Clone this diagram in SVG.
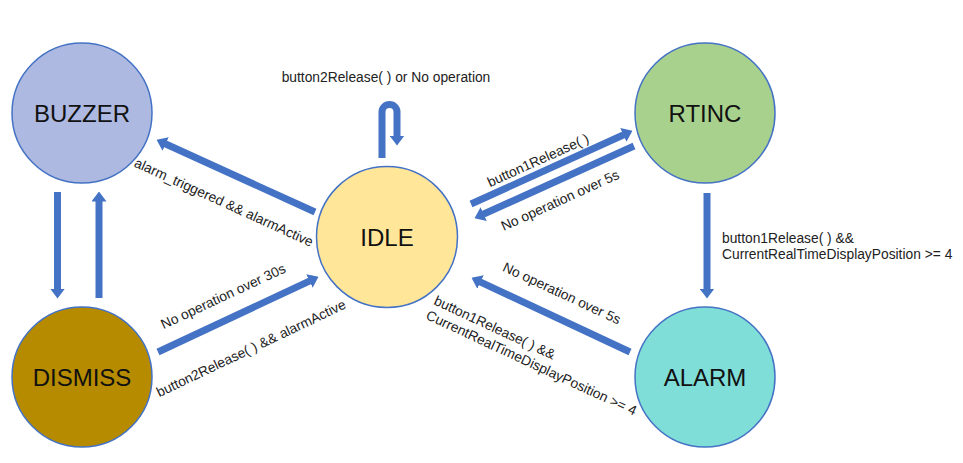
<svg xmlns="http://www.w3.org/2000/svg" width="963" height="463" viewBox="0 0 963 463">
<style>
.node{stroke:#4472C4;stroke-width:1.5}
.nt{font-family:"Liberation Sans",Arial,sans-serif;font-size:24px;fill:#111;text-anchor:middle}
.edge{fill:none;stroke:#4472C4;stroke-width:7;stroke-linecap:butt;marker-end:url(#ah)}
.lbl{font-family:"Liberation Sans",Arial,sans-serif;font-size:13.8px;fill:#222}
.c{text-anchor:middle}
</style>
<defs>
<marker id="ah" markerUnits="userSpaceOnUse" markerWidth="10" markerHeight="15" refX="0.5" refY="7.5" orient="auto" viewBox="0 0 10 15">
<path d="M0,0 L10,7.5 L0,15 Z" fill="#4472C4"/>
</marker>
</defs>
<rect width="963" height="463" fill="#fff"/>
<g id="connectors">
<path class="edge" d="M57.5,192 L57.5,289"/>
<path class="edge" d="M99,298 L99,201"/>
<path class="edge" d="M315,212 L165.2,143.8"/>
<path class="edge" d="M471,204 L623.8,134.7"/>
<path class="edge" d="M634,146 L483.2,214.3"/>
<path class="edge" d="M707,193 L707,289"/>
<path class="edge" d="M630,352 L480.1,281.8"/>
<path class="edge" d="M158,352 L309.9,280.8"/>
<path class="edge" d="M382,158 L382,112 A7.5,7.5 0 0 1 397,112 L397,136"/>
</g>
<g id="labels">
<text class="lbl c" x="386" y="82">button2Release( ) or No operation</text>
<text class="lbl c" transform="translate(224,202) rotate(24.5)" y="5">alarm_triggered &amp;&amp; alarmActive</text>
<text class="lbl c" transform="translate(538,160) rotate(-24.4)" y="5">button1Release( )</text>
<text class="lbl c" transform="translate(560,200) rotate(-24.4)" y="5">No operation over 5s</text>
<text class="lbl" x="722" y="243">button1Release( ) &amp;&amp;</text>
<text class="lbl" x="722" y="259">CurrentRealTimeDisplayPosition &gt;= 4</text>
<text class="lbl c" transform="translate(562,293) rotate(25)" y="5">No operation over 5s</text>
<g transform="translate(433,304) rotate(25)">
<text class="lbl" x="0" y="0">button1Release( ) &amp;&amp;</text>
<text class="lbl" x="-1" y="16.5">CurrentRealTimeDisplayPosition &gt;= 4</text>
</g>
<text class="lbl c" transform="translate(223,296) rotate(-25)" y="5">No operation over 30s</text>
<text class="lbl c" transform="translate(251,348) rotate(-25.5)" y="5">button2Release( ) &amp;&amp; alarmActive</text>
</g>
<g id="BUZZER"><circle class="node" cx="82" cy="113" r="70" fill="#ADB9E0"/><text class="nt" x="82" y="121.5">BUZZER</text></g>
<g id="RTINC"><circle class="node" cx="705" cy="113" r="70" fill="#A9D18E"/><text class="nt" x="705" y="121.5">RTINC</text></g>
<g id="IDLE"><circle class="node" cx="387" cy="237" r="70.5" fill="#FFE699"/><text class="nt" x="387" y="245.5">IDLE</text></g>
<g id="DISMISS"><circle class="node" cx="82" cy="377" r="70" fill="#B68B00"/><text class="nt" x="82" y="385.5">DISMISS</text></g>
<g id="ALARM"><circle class="node" cx="705" cy="377" r="70" fill="#7FDED8"/><text class="nt" x="705" y="385.5">ALARM</text></g>
</svg>
